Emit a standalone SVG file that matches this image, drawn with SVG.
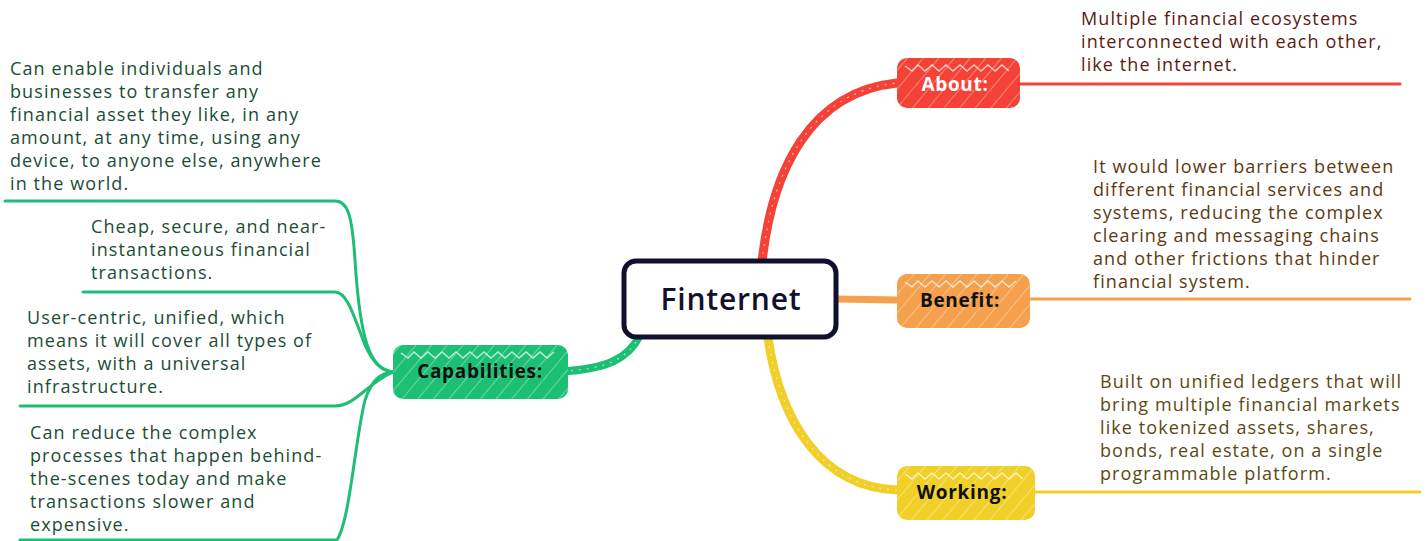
<svg xmlns="http://www.w3.org/2000/svg" width="1428" height="541" viewBox="0 0 1428 541">
<defs>
<pattern id="hatch" width="12" height="12" patternUnits="userSpaceOnUse" patternTransform="rotate(40)">
<line x1="0" y1="0" x2="0" y2="12" stroke="#ffffff" stroke-width="1.3" stroke-opacity="0.55"/>
</pattern>
<style>
.lbl{font-family:"Open Sans","Noto Sans",sans-serif;font-size:19px;font-weight:700;text-anchor:middle;letter-spacing:0.7px;}
.txt{font-family:"Open Sans","Noto Sans",sans-serif;font-size:18px;letter-spacing:1.1px;}
.conn{fill:none;stroke-linecap:round;stroke-linejoin:round;}
.dash{fill:none;stroke:#ffffff;stroke-width:1.2;stroke-opacity:0.6;stroke-dasharray:2 6;}
.zig{fill:none;stroke:#ffffff;stroke-width:1.5;stroke-opacity:0.7;}
</style>
</defs>
<rect width="1428" height="541" fill="#ffffff"/>
<g id="connectors">
<path class="conn" d="M 762 262 C 772 170, 810 92, 897 83" stroke="#f44236" stroke-width="9"/>
<path class="dash" d="M 762 262 C 772 170, 810 92, 897 83"/>
<path class="conn" d="M 1020 84 L 1400 84" stroke="#f44236" stroke-width="3"/>
<path class="conn" d="M 836 299 L 897 300" stroke="#f4a04c" stroke-width="7"/>
<path class="conn" d="M 1030 299 L 1410 299" stroke="#f4a04c" stroke-width="3"/>
<path class="conn" d="M 768 338 C 780 420, 820 487, 897 490" stroke="#f0d028" stroke-width="9"/>
<path class="dash" d="M 768 338 C 780 420, 820 487, 897 490"/>
<path class="conn" d="M 1035 492 L 1420 492" stroke="#f0d028" stroke-width="3"/>
<path class="conn" d="M 640 335 C 628 360, 605 368, 568 371" stroke="#1dbf75" stroke-width="8"/>
<path class="dash" d="M 640 335 C 628 360, 605 368, 568 371"/>
<path class="conn" d="M 5 201 L 335 201 C 348 201, 352 215, 355 260 C 360 340, 370 370, 393 372" stroke="#1dbf75" stroke-width="3"/>
<path class="conn" d="M 83 292 L 335 292 C 348 292, 355 320, 365 345 C 373 362, 380 370, 393 372" stroke="#1dbf75" stroke-width="3"/>
<path class="conn" d="M 20 406 L 335 406 C 355 406, 365 385, 393 372" stroke="#1dbf75" stroke-width="3"/>
<path class="conn" d="M 20 540 L 337 540 C 350 520, 355 440, 365 400 C 372 380, 380 373, 393 372" stroke="#1dbf75" stroke-width="3"/>
</g>
<g id="center">
<rect x="624" y="261" width="212" height="76" rx="12" fill="#ffffff" stroke="#10112e" stroke-width="5"/>
<text x="731" y="310" font-family="'Open Sans','Noto Sans',sans-serif" font-size="30" font-weight="600" letter-spacing="0.8" fill="#10112e" text-anchor="middle">Finternet</text>
</g>
<g id="about">
<rect x="897" y="58" width="123" height="50" rx="10" fill="#f44236"/>
<rect x="897" y="58" width="123" height="50" rx="10" fill="url(#hatch)"/>
<polyline class="zig" points="905,66 912,71 918,65 925,71 932,65 939,71 946,65 953,71 960,65 967,71 974,65 981,71 988,65 995,71 1002,65 1009,71"/>
<text class="lbl" x="955" y="91" fill="#ffffff">About:</text>
</g>
<g id="benefit">
<rect x="897" y="274" width="133" height="54" rx="10" fill="#f4a04c"/>
<rect x="897" y="274" width="133" height="54" rx="10" fill="url(#hatch)"/>
<polyline class="zig" points="905,282 912,287 918,281 925,287 932,281 939,287 946,281 953,287 960,281 967,287 974,281 981,287 988,281 995,287 1002,281 1009,287 1016,281"/>
<text class="lbl" x="960" y="307" fill="#111111">Benefit:</text>
</g>
<g id="working">
<rect x="897" y="466" width="138" height="54" rx="10" fill="#f0d028"/>
<rect x="897" y="466" width="138" height="54" rx="10" fill="url(#hatch)"/>
<polyline class="zig" points="905,474 912,479 918,473 925,479 932,473 939,479 946,473 953,479 960,473 967,479 974,473 981,479 988,473 995,479 1002,473 1009,479 1016,473 1023,479"/>
<text class="lbl" x="962" y="499" fill="#111111">Working:</text>
</g>
<g id="capabilities">
<rect x="393" y="345" width="175" height="54" rx="10" fill="#1dbf75"/>
<rect x="393" y="345" width="175" height="54" rx="10" fill="url(#hatch)"/>
<polyline class="zig" points="401,353 408,358 414,352 421,358 428,352 435,358 442,352 449,358 456,352 463,358 470,352 477,358 484,352 491,358 498,352 505,358 512,352 519,358 526,352 533,358 540,352 547,358 554,352"/>
<text class="lbl" x="480" y="378" fill="#111111">Capabilities:</text>
</g>
<g id="about-text" class="txt" fill="#5b1a14">
<text x="1081" y="25">Multiple financial ecosystems</text>
<text x="1081" y="48">interconnected with each other,</text>
<text x="1081" y="71">like the internet.</text>
</g>
<g id="benefit-text" class="txt" fill="#5c3a10">
<text x="1093" y="173">It would lower barriers between</text>
<text x="1093" y="196">different financial services and</text>
<text x="1093" y="219">systems, reducing the complex</text>
<text x="1093" y="242">clearing and messaging chains</text>
<text x="1093" y="265">and other frictions that hinder</text>
<text x="1093" y="288">financial system.</text>
</g>
<g id="working-text" class="txt" fill="#5a4a12">
<text x="1100" y="388">Built on unified ledgers that will</text>
<text x="1100" y="411">bring multiple financial markets</text>
<text x="1100" y="434">like tokenized assets, shares,</text>
<text x="1100" y="457">bonds, real estate, on a single</text>
<text x="1100" y="480">programmable platform.</text>
</g>
<g id="cap1-text" class="txt" fill="#1b4d35">
<text x="10" y="75">Can enable individuals and</text>
<text x="10" y="98">businesses to transfer any</text>
<text x="10" y="121">financial asset they like, in any</text>
<text x="10" y="144">amount, at any time, using any</text>
<text x="10" y="167">device, to anyone else, anywhere</text>
<text x="10" y="190">in the world.</text>
</g>
<g id="cap2-text" class="txt" fill="#1b4d35">
<text x="91" y="233">Cheap, secure, and near-</text>
<text x="91" y="256">instantaneous financial</text>
<text x="91" y="279">transactions.</text>
</g>
<g id="cap3-text" class="txt" fill="#1b4d35">
<text x="27" y="324">User-centric, unified, which</text>
<text x="27" y="347">means it will cover all types of</text>
<text x="27" y="370">assets, with a universal</text>
<text x="27" y="393">infrastructure.</text>
</g>
<g id="cap4-text" class="txt" fill="#1b4d35">
<text x="30" y="439">Can reduce the complex</text>
<text x="30" y="462">processes that happen behind-</text>
<text x="30" y="485">the-scenes today and make</text>
<text x="30" y="508">transactions slower and</text>
<text x="30" y="531">expensive.</text>
</g>
</svg>
